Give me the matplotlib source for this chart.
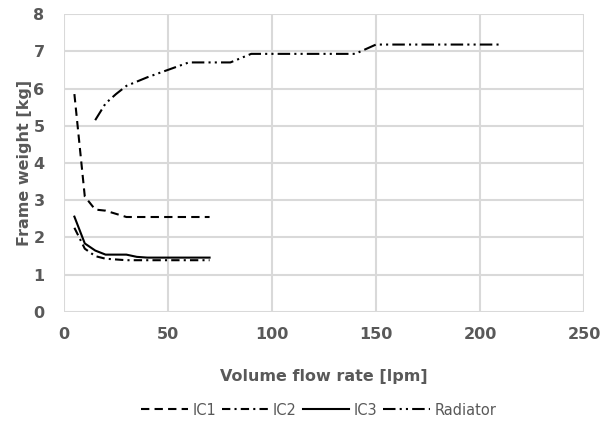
import matplotlib
matplotlib.use('Agg')
import matplotlib.pyplot as plt

# data
ic1_x = [5, 10, 15, 20, 30, 40, 50, 60, 70]
ic1_y = [5.85, 3.1, 2.75, 2.72, 2.55, 2.55, 2.55, 2.55, 2.55]

ic2_x = [5, 10, 15, 20, 30, 40, 50, 60, 70]
ic2_y = [2.26, 1.7, 1.5, 1.43, 1.39, 1.39, 1.39, 1.39, 1.39]

ic3_x = [5, 10, 15, 20, 30, 35, 40, 50, 60, 70]
ic3_y = [2.56, 1.84, 1.65, 1.54, 1.54, 1.48, 1.46, 1.46, 1.46, 1.46]

rad_x = [15, 20, 25, 30, 40, 50, 60, 70, 80, 90, 100, 110, 120, 130, 140,
         150, 160, 170, 180, 190, 200, 210]
rad_y = [5.15, 5.6, 5.85, 6.07, 6.3, 6.5, 6.7, 6.7, 6.7, 6.93, 6.93, 6.93,
         6.93, 6.93, 6.93, 7.18, 7.18, 7.18, 7.18, 7.18, 7.18, 7.18]

grey = '#595959'

fig = plt.figure(figsize=(6.06, 4.22), dpi=100)
ax = fig.add_axes([0.1056, 0.2607, 0.858, 0.7061])

ax.plot(ic1_x, ic1_y, color='black', lw=1.5, linestyle=(0, (4, 2.5)), label='IC1')
ax.plot(ic2_x, ic2_y, color='black', lw=1.5, linestyle=(0, (4, 2, 1, 2)), label='IC2')
ax.plot(ic3_x, ic3_y, color='black', lw=1.5, linestyle='-', label='IC3')
ax.plot(rad_x, rad_y, color='black', lw=1.5, linestyle=(0, (6, 2, 1, 2, 1, 2)),
        label='Radiator')

ax.set_xlim(0, 250)
ax.set_ylim(0, 8)
ax.set_xticks(range(0, 251, 50))
ax.set_yticks(range(0, 9))
ax.grid(True, color='#d9d9d9', lw=1.5)
ax.set_axisbelow(True)
for s in ax.spines.values():
    s.set_visible(False)
ax.tick_params(length=0, labelsize=11.5, labelcolor=grey)
ax.tick_params(axis='x', pad=11)
ax.tick_params(axis='y', pad=14)
for lbl in ax.get_xticklabels() + ax.get_yticklabels():
    lbl.set_fontweight('bold')

ax.set_xlabel('Volume flow rate [lpm]', fontsize=11.5, fontweight='bold',
              color=grey, labelpad=19)
ax.set_ylabel('Frame weight [kg]', fontsize=11.5, fontweight='bold',
              color=grey, labelpad=1)

leg = ax.legend(loc='upper center', bbox_to_anchor=(0.49, -0.26), ncol=4,
                frameon=False, fontsize=10.5, handlelength=3.2,
                columnspacing=0.4, handletextpad=0.3)
for t in leg.get_texts():
    t.set_color(grey)

fig.savefig('out.png', dpi=100)
